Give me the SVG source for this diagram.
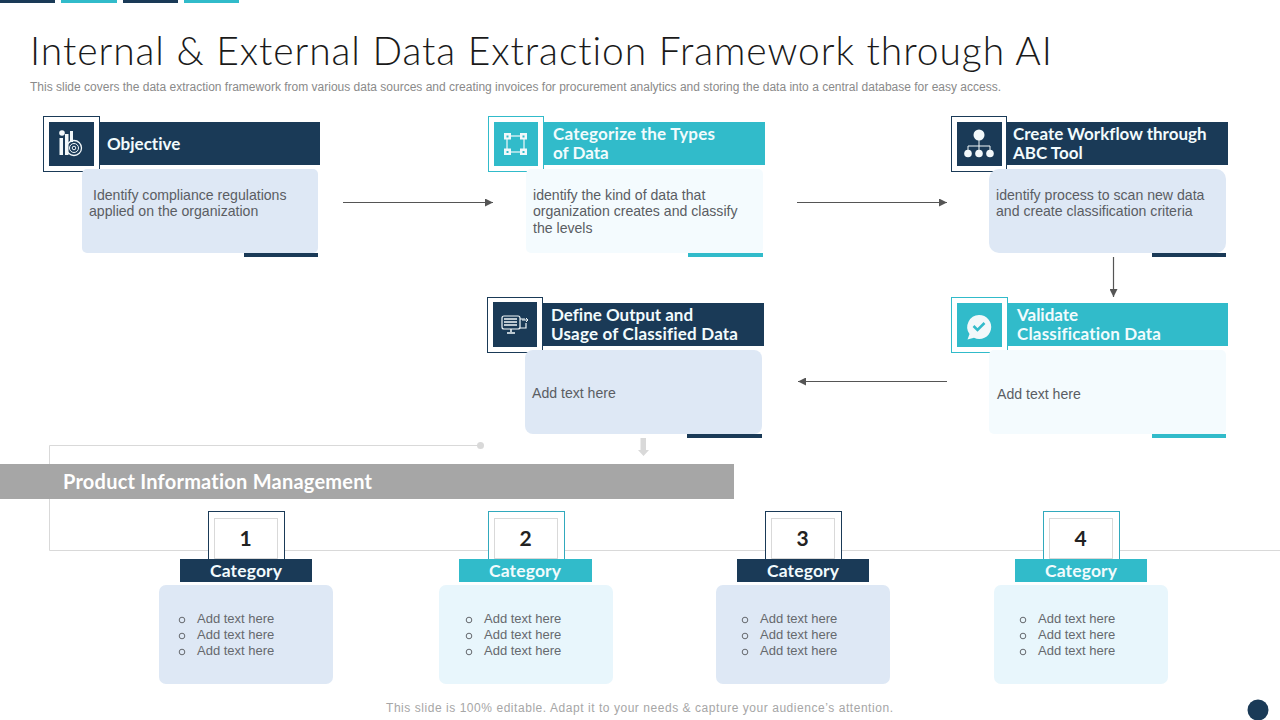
<svg xmlns="http://www.w3.org/2000/svg" width="1280" height="720" viewBox="0 0 1280 720">
<style>
text{font-family:"Liberation Sans",Arial,sans-serif;font-variant-ligatures:none}
.navy{fill:#1a3a57}.teal{fill:#31bbca}
.cardb{fill:#dee8f5}.cardt{fill:#f4fbfe}
.h{font-family:Lato,"Liberation Sans",sans-serif;font-weight:700;font-size:17px;fill:#f2fbfd}
.b{font-size:14.100px;fill:#5a5d63}
.s{font-size:13px;fill:#66696e}
.num{font-family:Lato,"Liberation Sans",sans-serif;font-weight:700;font-size:21px;fill:#222;text-anchor:middle}
.cat{font-family:Lato,"Liberation Sans",sans-serif;font-weight:700;font-size:17.500px;fill:#f2fbfd;text-anchor:middle}
.conn{stroke:#555;stroke-width:1.2;fill:none;marker-end:url(#arr)}
.ic{fill:#f2f8fa}
.bul{fill:none;stroke:#66696e;stroke-width:1}
</style>
<defs>
<marker id="arr" markerWidth="9" markerHeight="8" refX="8" refY="4" orient="auto" markerUnits="userSpaceOnUse"><path d="M0 0L8 4L0 8z" fill="#555"/></marker>
</defs>
<g id="top-bars">
<rect class="navy" x="0" y="0" width="55" height="3"/><rect class="teal" x="61" y="0" width="56" height="3"/>
<rect class="navy" x="123" y="0" width="55" height="3"/><rect class="teal" x="184" y="0" width="55" height="3"/>
</g>
<text id="title" x="30" y="65" font-size="39" fill="#1a1a1a" style='font-family:Lato,"Liberation Sans",sans-serif;font-weight:300' textLength="1022" lengthAdjust="spacing">Internal &amp; External Data Extraction Framework through AI</text>
<text id="subtitle" x="30" y="91" font-size="12" fill="#8a8a8a" textLength="971" lengthAdjust="spacing">This slide covers the data extraction framework from various data sources and creating invoices for procurement analytics and storing the data into a central database for easy access.</text>

<g id="connectors">
<line class="conn" x1="343" y1="202.500" x2="493" y2="202.500"/>
<line class="conn" x1="797" y1="202.500" x2="947" y2="202.500"/>
<line class="conn" x1="1113.500" y1="257" x2="1113.500" y2="297"/>
<line class="conn" x1="947" y1="381.500" x2="798" y2="381.500"/>
<path d="M640.500 438h5.500v12h3l-5.500 6l-5.500-6h2.500z" fill="#d9d9d9"/>
<path d="M480 445.500H49.500V550.500H1280" fill="none" stroke="#d9d9d9"/>
<circle cx="480.500" cy="445.500" r="3.500" fill="#d9d9d9"/>
</g>

<g id="node-objective">
<rect class="navy" x="49" y="122" width="271" height="43"/>
<rect x="43.500" y="116.500" width="56" height="55" fill="#fff" stroke="#1a3a57"/>
<rect class="navy" x="49" y="122" width="45" height="44"/>
<g class="ic">
<circle cx="62" cy="133" r="2.800"/><rect x="59.500" y="138" width="3.500" height="17"/><rect x="65" y="134" width="3.500" height="21"/><rect x="70" y="131" width="3" height="11"/>
<circle cx="74" cy="148" r="7.500" fill="none" stroke="#f2f8fa" stroke-width="1.300"/><circle cx="74" cy="148" r="4.500" fill="none" stroke="#f2f8fa" stroke-width="1"/><circle cx="74" cy="148" r="1.800" fill="none" stroke="#f2f8fa" stroke-width="1"/>
</g>
<text class="h" x="107" y="149.500">Objective</text>
<rect class="cardb" x="82" y="169" width="236" height="84" rx="5"/>
<rect class="navy" x="244" y="253" width="74" height="4"/>
<text class="b" x="93" y="200">Identify compliance regulations</text>
<text class="b" x="89" y="216">applied on the organization</text>
</g>

<g id="node-categorize">
<rect class="teal" x="494" y="122" width="271" height="43"/>
<rect x="488.500" y="116.500" width="55" height="55" fill="#fff" stroke="#31bbca"/>
<rect class="teal" x="494" y="122" width="44" height="44"/>
<g class="ic">
<rect x="507" y="136" width="17" height="16" fill="none" stroke="#f2f8fa" stroke-width="1.200"/>
<rect x="504" y="133" width="7" height="6.500"/><rect x="520" y="133" width="7" height="6.500"/><rect x="504" y="148.500" width="7" height="6.500"/><rect x="520" y="148.500" width="7" height="6.500"/>
</g>
<g fill="#31bbca"><rect x="506.500" y="135.500" width="2" height="2"/><rect x="522.500" y="135.500" width="2" height="2"/><rect x="506.500" y="151" width="2" height="2"/><rect x="522.500" y="151" width="2" height="2"/></g>
<text class="h" x="553" y="140" textLength="162" lengthAdjust="spacing">Categorize the Types</text>
<text class="h" x="553" y="159">of Data</text>
<rect class="cardt" x="526" y="169" width="237" height="84" rx="5"/>
<rect class="teal" x="688" y="253" width="75" height="4"/>
<text class="b" x="533" y="200">identify the kind of data that</text>
<text class="b" x="533" y="216">organization creates and classify</text>
<text class="b" x="533" y="233">the levels</text>
</g>

<g id="node-workflow">
<rect class="navy" x="957" y="122" width="271" height="43"/>
<rect x="951.500" y="116.500" width="55" height="55" fill="#fff" stroke="#1a3a57"/>
<rect class="navy" x="957" y="122" width="45" height="44"/>
<g class="ic">
<circle cx="979" cy="135" r="5.500"/><circle cx="968" cy="153.500" r="3.800"/><circle cx="979" cy="153.500" r="3.800"/><circle cx="990" cy="153.500" r="3.800"/>
<path d="M979 140v6M968 150v-4h22v4M979 146v4" fill="none" stroke="#f2f8fa"/>
</g>
<text class="h" x="1013" y="140">Create Workflow through</text>
<text class="h" x="1013" y="159">ABC Tool</text>
<rect class="cardb" x="989" y="169" width="237" height="84" rx="10"/>
<rect class="navy" x="1152" y="253" width="74" height="4"/>
<text class="b" x="996" y="200">identify process to scan new data</text>
<text class="b" x="996" y="216">and create classification criteria</text>
</g>

<g id="node-output">
<rect class="navy" x="493" y="303" width="271" height="43"/>
<rect x="487.500" y="297.500" width="55" height="55" fill="#fff" stroke="#1a3a57"/>
<rect class="navy" x="493" y="302" width="44" height="45"/>
<g>
<rect x="502" y="316" width="18" height="13" rx="2" fill="none" stroke="#f2f8fa" stroke-width="1.200"/>
<path d="M504 319h13M504 322h13M504 325h13" stroke="#f2f8fa" stroke-width="1.500"/>
<path d="M511 329v3M507 333h8" stroke="#f2f8fa" stroke-width="1.500"/>
<path d="M520 319h5M520 328h6v-5" fill="none" stroke="#f2f8fa" stroke-width="1.200"/><path d="M522 320h6m-2-2l2 2l-2 2" fill="none" stroke="#f2f8fa"/>
</g>
<text class="h" x="551" y="321">Define Output and</text>
<text class="h" x="551" y="340" textLength="187" lengthAdjust="spacing">Usage of Classified Data</text>
<rect class="cardb" x="525" y="350" width="237" height="84" rx="8"/>
<rect class="navy" x="687" y="434" width="75" height="4"/>
<text class="b" x="532" y="398">Add text here</text>
</g>

<g id="node-validate">
<rect class="teal" x="957" y="303" width="271" height="43"/>
<rect x="951.500" y="297.500" width="56" height="55" fill="#fff" stroke="#31bbca"/>
<rect class="teal" x="957" y="303" width="45" height="44"/>
<path class="ic" d="M979 315a12 12 0 1 1-5 22.800l-6.500 1.700l2-5.500A12 12 0 0 1 979 315z"/>
<path d="M973.500 326l4 4l7-7" fill="none" stroke="#31bbca" stroke-width="2.500"/>
<text class="h" x="1017" y="321">Validate</text>
<text class="h" x="1017" y="340" textLength="144" lengthAdjust="spacing">Classification Data</text>
<rect class="cardt" x="989" y="350" width="237" height="84" rx="5"/>
<rect class="teal" x="1152" y="434" width="74" height="4"/>
<text class="b" x="997" y="399">Add text here</text>
</g>

<g id="pim-banner">
<rect x="0" y="464" width="734" height="35" fill="#a6a6a6"/>
<text x="63" y="489" style='font-family:Lato,"Liberation Sans",sans-serif' font-weight="700" font-size="20" fill="#fff" textLength="309" lengthAdjust="spacing">Product Information Management</text>
</g>

<g id="category-1">
<rect x="208.500" y="511.500" width="76" height="50" fill="#fff" stroke="#1a3a57"/>
<rect x="214.500" y="518.500" width="63" height="40" fill="#fff" stroke="#d9d9d9"/>
<text class="num" x="245.500" y="546">1</text>
<rect class="navy" x="180" y="559" width="132" height="23"/>
<text class="cat" x="246" y="577" textLength="72" lengthAdjust="spacing">Category</text>
<rect class="cardb" x="159" y="585" width="174" height="99" rx="7"/>
<circle class="bul" cx="182" cy="620" r="2.800"/><circle class="bul" cx="182" cy="636" r="2.800"/><circle class="bul" cx="182" cy="652" r="2.800"/>
<text class="s" x="197" y="623">Add text here</text><text class="s" x="197" y="639">Add text here</text><text class="s" x="197" y="655">Add text here</text>
</g>
<g id="category-2">
<rect x="488.500" y="511.500" width="76" height="50" fill="#fff" stroke="#31a9bd"/>
<rect x="494.500" y="518.500" width="63" height="40" fill="#fff" stroke="#d9d9d9"/>
<text class="num" x="525.500" y="546">2</text>
<rect class="teal" x="459" y="559" width="133" height="23"/>
<text class="cat" x="525" y="577" textLength="72" lengthAdjust="spacing">Category</text>
<rect x="439" y="585" width="174" height="99" rx="7" fill="#e8f6fc"/>
<circle class="bul" cx="469" cy="620" r="2.800"/><circle class="bul" cx="469" cy="636" r="2.800"/><circle class="bul" cx="469" cy="652" r="2.800"/>
<text class="s" x="484" y="623">Add text here</text><text class="s" x="484" y="639">Add text here</text><text class="s" x="484" y="655">Add text here</text>
</g>
<g id="category-3">
<rect x="765.500" y="511.500" width="76" height="50" fill="#fff" stroke="#1a3a57"/>
<rect x="771.500" y="518.500" width="63" height="40" fill="#fff" stroke="#d9d9d9"/>
<text class="num" x="802.500" y="546">3</text>
<rect class="navy" x="737" y="559" width="132" height="23"/>
<text class="cat" x="803" y="577" textLength="72" lengthAdjust="spacing">Category</text>
<rect class="cardb" x="716" y="585" width="174" height="99" rx="7"/>
<circle class="bul" cx="745" cy="620" r="2.800"/><circle class="bul" cx="745" cy="636" r="2.800"/><circle class="bul" cx="745" cy="652" r="2.800"/>
<text class="s" x="760" y="623">Add text here</text><text class="s" x="760" y="639">Add text here</text><text class="s" x="760" y="655">Add text here</text>
</g>
<g id="category-4">
<rect x="1043.500" y="511.500" width="76" height="50" fill="#fff" stroke="#31a9bd"/>
<rect x="1049.500" y="518.500" width="63" height="40" fill="#fff" stroke="#d9d9d9"/>
<text class="num" x="1080.500" y="546">4</text>
<rect class="teal" x="1015" y="559" width="132" height="23"/>
<text class="cat" x="1081" y="577" textLength="72" lengthAdjust="spacing">Category</text>
<rect x="994" y="585" width="174" height="99" rx="7" fill="#e8f6fc"/>
<circle class="bul" cx="1023" cy="620" r="2.800"/><circle class="bul" cx="1023" cy="636" r="2.800"/><circle class="bul" cx="1023" cy="652" r="2.800"/>
<text class="s" x="1038" y="623">Add text here</text><text class="s" x="1038" y="639">Add text here</text><text class="s" x="1038" y="655">Add text here</text>
</g>

<text id="footer" x="386" y="712" font-size="12" fill="#a6a6a6" textLength="507" lengthAdjust="spacing">This slide is 100% editable. Adapt it to your needs &amp; capture your audience’s attention.</text>
<circle id="page-dot" cx="1258" cy="710" r="10.500" fill="#1a3a57"/>
</svg>
